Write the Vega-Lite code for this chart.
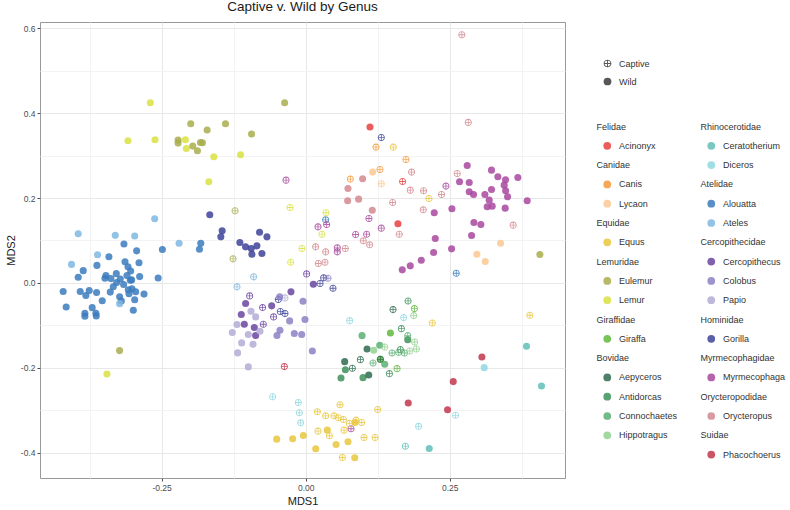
{
  "$schema": "https://vega.github.io/schema/vega-lite/v6.json",
  "width": 525,
  "height": 456,
  "autosize": {"type": "none"},
  "padding": {"left": 40, "top": 22, "right": 225, "bottom": 32},
  "background": "white",
  "title": {"text": "Captive v. Wild by Genus", "font": "Liberation Sans", "fontSize": 13.5, "fontWeight": "normal", "color": "#1a1a1a", "anchor": "middle", "baseline": "alphabetic", "offset": 1, "dy": 3.5},
  "data": {"values": [
    {"MDS1": -0.3153, "MDS2": 0.0918, "Genus": "Alouatta", "Type": "Wild"},
    {"MDS1": -0.2933, "MDS2": 0.0755, "Genus": "Alouatta", "Type": "Wild"},
    {"MDS1": -0.3414, "MDS2": 0.0615, "Genus": "Alouatta", "Type": "Wild"},
    {"MDS1": -0.3622, "MDS2": 0.0412, "Genus": "Alouatta", "Type": "Wild"},
    {"MDS1": -0.386, "MDS2": 0.0288, "Genus": "Alouatta", "Type": "Wild"},
    {"MDS1": -0.3947, "MDS2": 0.0132, "Genus": "Alouatta", "Type": "Wild"},
    {"MDS1": -0.2486, "MDS2": 0.0786, "Genus": "Alouatta", "Type": "Wild"},
    {"MDS1": -0.3135, "MDS2": 0.0498, "Genus": "Alouatta", "Type": "Wild"},
    {"MDS1": -0.3083, "MDS2": 0.0381, "Genus": "Alouatta", "Type": "Wild"},
    {"MDS1": -0.3037, "MDS2": 0.028, "Genus": "Alouatta", "Type": "Wild"},
    {"MDS1": -0.2892, "MDS2": 0.0475, "Genus": "Alouatta", "Type": "Wild"},
    {"MDS1": -0.3466, "MDS2": 0.0171, "Genus": "Alouatta", "Type": "Wild"},
    {"MDS1": -0.3483, "MDS2": 0.0109, "Genus": "Alouatta", "Type": "Wild"},
    {"MDS1": -0.3379, "MDS2": 0.0101, "Genus": "Alouatta", "Type": "Wild"},
    {"MDS1": -0.3286, "MDS2": 0.0218, "Genus": "Alouatta", "Type": "Wild"},
    {"MDS1": -0.3217, "MDS2": 0.0093, "Genus": "Alouatta", "Type": "Wild"},
    {"MDS1": -0.3338, "MDS2": -0.0093, "Genus": "Alouatta", "Type": "Wild"},
    {"MDS1": -0.328, "MDS2": 0.0008, "Genus": "Alouatta", "Type": "Wild"},
    {"MDS1": -0.3101, "MDS2": 0.0171, "Genus": "Alouatta", "Type": "Wild"},
    {"MDS1": -0.3043, "MDS2": 0.0062, "Genus": "Alouatta", "Type": "Wild"},
    {"MDS1": -0.2881, "MDS2": 0.0148, "Genus": "Alouatta", "Type": "Wild"},
    {"MDS1": -0.256, "MDS2": 0.0117, "Genus": "Alouatta", "Type": "Wild"},
    {"MDS1": -0.4208, "MDS2": -0.0202, "Genus": "Alouatta", "Type": "Wild"},
    {"MDS1": -0.3912, "MDS2": -0.0202, "Genus": "Alouatta", "Type": "Wild"},
    {"MDS1": -0.3756, "MDS2": -0.0179, "Genus": "Alouatta", "Type": "Wild"},
    {"MDS1": -0.3814, "MDS2": -0.0296, "Genus": "Alouatta", "Type": "Wild"},
    {"MDS1": -0.3628, "MDS2": -0.0226, "Genus": "Alouatta", "Type": "Wild"},
    {"MDS1": -0.3391, "MDS2": -0.0218, "Genus": "Alouatta", "Type": "Wild"},
    {"MDS1": -0.353, "MDS2": -0.042, "Genus": "Alouatta", "Type": "Wild"},
    {"MDS1": -0.4156, "MDS2": -0.0568, "Genus": "Alouatta", "Type": "Wild"},
    {"MDS1": -0.3704, "MDS2": -0.0584, "Genus": "Alouatta", "Type": "Wild"},
    {"MDS1": -0.3831, "MDS2": -0.0716, "Genus": "Alouatta", "Type": "Wild"},
    {"MDS1": -0.364, "MDS2": -0.0716, "Genus": "Alouatta", "Type": "Wild"},
    {"MDS1": -0.3831, "MDS2": -0.0786, "Genus": "Alouatta", "Type": "Wild"},
    {"MDS1": -0.3634, "MDS2": -0.0778, "Genus": "Alouatta", "Type": "Wild"},
    {"MDS1": -0.2991, "MDS2": -0.0646, "Genus": "Alouatta", "Type": "Wild"},
    {"MDS1": -0.2805, "MDS2": -0.0265, "Genus": "Alouatta", "Type": "Wild"},
    {"MDS1": -0.2967, "MDS2": -0.0397, "Genus": "Alouatta", "Type": "Wild"},
    {"MDS1": -0.3228, "MDS2": -0.0327, "Genus": "Alouatta", "Type": "Wild"},
    {"MDS1": -0.3199, "MDS2": -0.0428, "Genus": "Alouatta", "Type": "Wild"},
    {"MDS1": -0.3078, "MDS2": -0.0163, "Genus": "Alouatta", "Type": "Wild"},
    {"MDS1": -0.3014, "MDS2": -0.014, "Genus": "Alouatta", "Type": "Wild"},
    {"MDS1": -0.295, "MDS2": -0.021, "Genus": "Alouatta", "Type": "Wild"},
    {"MDS1": -0.3159, "MDS2": -0.0039, "Genus": "Alouatta", "Type": "Wild"},
    {"MDS1": -0.3066, "MDS2": -0.0257, "Genus": "Alouatta", "Type": "Wild"},
    {"MDS1": -0.302, "MDS2": 0.007, "Genus": "Alouatta", "Type": "Wild"},
    {"MDS1": -0.1843, "MDS2": 0.0794, "Genus": "Alouatta", "Type": "Wild"},
    {"MDS1": -0.182, "MDS2": 0.0936, "Genus": "Alouatta", "Type": "Wild"},
    {"MDS1": 0.0347, "MDS2": 0.1486, "Genus": "Alouatta", "Type": "Captive"},
    {"MDS1": 0.2613, "MDS2": 0.0228, "Genus": "Alouatta", "Type": "Captive"},
    {"MDS1": -0.262, "MDS2": 0.151, "Genus": "Ateles", "Type": "Wild"},
    {"MDS1": -0.3947, "MDS2": 0.116, "Genus": "Ateles", "Type": "Wild"},
    {"MDS1": -0.3304, "MDS2": 0.112, "Genus": "Ateles", "Type": "Wild"},
    {"MDS1": -0.2967, "MDS2": 0.1105, "Genus": "Ateles", "Type": "Wild"},
    {"MDS1": -0.3611, "MDS2": 0.0661, "Genus": "Ateles", "Type": "Wild"},
    {"MDS1": -0.4063, "MDS2": 0.0436, "Genus": "Ateles", "Type": "Wild"},
    {"MDS1": -0.3228, "MDS2": -0.049, "Genus": "Ateles", "Type": "Wild"},
    {"MDS1": -0.2197, "MDS2": 0.0936, "Genus": "Ateles", "Type": "Wild"},
    {"MDS1": -0.0903, "MDS2": 0.0142, "Genus": "Ateles", "Type": "Captive"},
    {"MDS1": -0.1192, "MDS2": -0.0094, "Genus": "Ateles", "Type": "Captive"},
    {"MDS1": -0.2696, "MDS2": 0.4247, "Genus": "Lemur", "Type": "Wild"},
    {"MDS1": -0.3084, "MDS2": 0.335, "Genus": "Lemur", "Type": "Wild"},
    {"MDS1": -0.2614, "MDS2": 0.3374, "Genus": "Lemur", "Type": "Wild"},
    {"MDS1": -0.2087, "MDS2": 0.3374, "Genus": "Lemur", "Type": "Wild"},
    {"MDS1": -0.207, "MDS2": 0.3169, "Genus": "Lemur", "Type": "Wild"},
    {"MDS1": -0.1594, "MDS2": 0.2973, "Genus": "Lemur", "Type": "Wild"},
    {"MDS1": -0.113, "MDS2": 0.302, "Genus": "Lemur", "Type": "Wild"},
    {"MDS1": -0.1681, "MDS2": 0.2383, "Genus": "Lemur", "Type": "Wild"},
    {"MDS1": -0.3449, "MDS2": -0.2147, "Genus": "Lemur", "Type": "Wild"},
    {"MDS1": -0.0272, "MDS2": 0.1777, "Genus": "Lemur", "Type": "Captive"},
    {"MDS1": 0.0353, "MDS2": 0.1652, "Genus": "Lemur", "Type": "Captive"},
    {"MDS1": 0.0283, "MDS2": 0.1148, "Genus": "Lemur", "Type": "Captive"},
    {"MDS1": -0.0064, "MDS2": 0.081, "Genus": "Lemur", "Type": "Captive"},
    {"MDS1": -0.026, "MDS2": 0.0488, "Genus": "Lemur", "Type": "Captive"},
    {"MDS1": -0.0365, "MDS2": 0.4247, "Genus": "Eulemur", "Type": "Wild"},
    {"MDS1": -0.1994, "MDS2": 0.3751, "Genus": "Eulemur", "Type": "Wild"},
    {"MDS1": -0.1391, "MDS2": 0.3751, "Genus": "Eulemur", "Type": "Wild"},
    {"MDS1": -0.171, "MDS2": 0.3602, "Genus": "Eulemur", "Type": "Wild"},
    {"MDS1": -0.0939, "MDS2": 0.3508, "Genus": "Eulemur", "Type": "Wild"},
    {"MDS1": -0.2214, "MDS2": 0.3366, "Genus": "Eulemur", "Type": "Wild"},
    {"MDS1": -0.2214, "MDS2": 0.3295, "Genus": "Eulemur", "Type": "Wild"},
    {"MDS1": -0.1959, "MDS2": 0.3224, "Genus": "Eulemur", "Type": "Wild"},
    {"MDS1": -0.1878, "MDS2": 0.3114, "Genus": "Eulemur", "Type": "Wild"},
    {"MDS1": -0.1826, "MDS2": 0.3311, "Genus": "Eulemur", "Type": "Wild"},
    {"MDS1": -0.1791, "MDS2": 0.3303, "Genus": "Eulemur", "Type": "Wild"},
    {"MDS1": -0.3229, "MDS2": -0.1597, "Genus": "Eulemur", "Type": "Wild"},
    {"MDS1": 0.4064, "MDS2": 0.0668, "Genus": "Eulemur", "Type": "Wild"},
    {"MDS1": -0.1225, "MDS2": 0.1699, "Genus": "Eulemur", "Type": "Captive"},
    {"MDS1": -0.126, "MDS2": 0.0566, "Genus": "Eulemur", "Type": "Captive"},
    {"MDS1": -0.1664, "MDS2": 0.1604, "Genus": "Gorilla", "Type": "Wild"},
    {"MDS1": -0.1449, "MDS2": 0.1227, "Genus": "Gorilla", "Type": "Wild"},
    {"MDS1": -0.1472, "MDS2": 0.1085, "Genus": "Gorilla", "Type": "Wild"},
    {"MDS1": -0.1142, "MDS2": 0.0952, "Genus": "Gorilla", "Type": "Wild"},
    {"MDS1": -0.1043, "MDS2": 0.0849, "Genus": "Gorilla", "Type": "Wild"},
    {"MDS1": -0.0945, "MDS2": 0.081, "Genus": "Gorilla", "Type": "Wild"},
    {"MDS1": -0.0846, "MDS2": 0.0873, "Genus": "Gorilla", "Type": "Wild"},
    {"MDS1": -0.0933, "MDS2": 0.0676, "Genus": "Gorilla", "Type": "Wild"},
    {"MDS1": -0.08, "MDS2": 0.1195, "Genus": "Gorilla", "Type": "Wild"},
    {"MDS1": -0.0672, "MDS2": 0.1085, "Genus": "Gorilla", "Type": "Wild"},
    {"MDS1": -0.0759, "MDS2": 0.0692, "Genus": "Gorilla", "Type": "Wild"},
    {"MDS1": 0.1312, "MDS2": 0.3429, "Genus": "Gorilla", "Type": "Captive"},
    {"MDS1": -0.0475, "MDS2": -0.0393, "Genus": "Gorilla", "Type": "Captive"},
    {"MDS1": -0.044, "MDS2": -0.0676, "Genus": "Gorilla", "Type": "Captive"},
    {"MDS1": -0.0359, "MDS2": -0.0723, "Genus": "Gorilla", "Type": "Captive"},
    {"MDS1": 0.0312, "MDS2": 0.0118, "Genus": "Gorilla", "Type": "Captive"},
    {"MDS1": 0.0249, "MDS2": -0.0016, "Genus": "Gorilla", "Type": "Captive"},
    {"MDS1": 0.0474, "MDS2": -0.0126, "Genus": "Gorilla", "Type": "Captive"},
    {"MDS1": -0.1042, "MDS2": -0.0487, "Genus": "Cercopithecus", "Type": "Wild"},
    {"MDS1": -0.0255, "MDS2": -0.0212, "Genus": "Cercopithecus", "Type": "Wild"},
    {"MDS1": -0.059, "MDS2": -0.0542, "Genus": "Cercopithecus", "Type": "Wild"},
    {"MDS1": -0.1117, "MDS2": -0.0747, "Genus": "Cercopithecus", "Type": "Wild"},
    {"MDS1": -0.1065, "MDS2": -0.0975, "Genus": "Cercopithecus", "Type": "Wild"},
    {"MDS1": -0.0891, "MDS2": -0.1053, "Genus": "Cercopithecus", "Type": "Wild"},
    {"MDS1": -0.0868, "MDS2": -0.1242, "Genus": "Cercopithecus", "Type": "Wild"},
    {"MDS1": 0.0133, "MDS2": -0.0031, "Genus": "Cercopithecus", "Type": "Wild"},
    {"MDS1": -0.0972, "MDS2": -0.0307, "Genus": "Cercopithecus", "Type": "Captive"},
    {"MDS1": -0.0747, "MDS2": -0.0582, "Genus": "Cercopithecus", "Type": "Captive"},
    {"MDS1": -0.0556, "MDS2": -0.0802, "Genus": "Cercopithecus", "Type": "Captive"},
    {"MDS1": -0.0735, "MDS2": -0.0975, "Genus": "Cercopithecus", "Type": "Captive"},
    {"MDS1": 0.0017, "MDS2": 0.0212, "Genus": "Cercopithecus", "Type": "Captive"},
    {"MDS1": -0.0949, "MDS2": -0.0668, "Genus": "Papio", "Type": "Wild"},
    {"MDS1": -0.0868, "MDS2": -0.0802, "Genus": "Papio", "Type": "Wild"},
    {"MDS1": -0.1192, "MDS2": -0.0983, "Genus": "Papio", "Type": "Wild"},
    {"MDS1": -0.1273, "MDS2": -0.1171, "Genus": "Papio", "Type": "Wild"},
    {"MDS1": -0.0995, "MDS2": -0.1219, "Genus": "Papio", "Type": "Wild"},
    {"MDS1": -0.0793, "MDS2": -0.114, "Genus": "Papio", "Type": "Wild"},
    {"MDS1": -0.1111, "MDS2": -0.1415, "Genus": "Papio", "Type": "Wild"},
    {"MDS1": -0.0914, "MDS2": -0.1447, "Genus": "Papio", "Type": "Wild"},
    {"MDS1": -0.1181, "MDS2": -0.1651, "Genus": "Papio", "Type": "Wild"},
    {"MDS1": -0.0995, "MDS2": -0.1981, "Genus": "Papio", "Type": "Wild"},
    {"MDS1": -0.0359, "MDS2": -0.0354, "Genus": "Papio", "Type": "Captive"},
    {"MDS1": -0.0451, "MDS2": -0.033, "Genus": "Colobus", "Type": "Wild"},
    {"MDS1": -0.0498, "MDS2": -0.1242, "Genus": "Colobus", "Type": "Wild"},
    {"MDS1": -0.0446, "MDS2": -0.1116, "Genus": "Colobus", "Type": "Wild"},
    {"MDS1": -0.0278, "MDS2": -0.0896, "Genus": "Colobus", "Type": "Wild"},
    {"MDS1": -0.0197, "MDS2": -0.1195, "Genus": "Colobus", "Type": "Wild"},
    {"MDS1": -0.0069, "MDS2": -0.1219, "Genus": "Colobus", "Type": "Wild"},
    {"MDS1": -0.0012, "MDS2": -0.0865, "Genus": "Colobus", "Type": "Wild"},
    {"MDS1": -0.0046, "MDS2": -0.0432, "Genus": "Colobus", "Type": "Wild"},
    {"MDS1": 0.0116, "MDS2": -0.1604, "Genus": "Colobus", "Type": "Wild"},
    {"MDS1": 0.0387, "MDS2": 0.011, "Genus": "Colobus", "Type": "Captive"},
    {"MDS1": -0.0341, "MDS2": 0.2422, "Genus": "Myrmecophaga", "Type": "Captive"},
    {"MDS1": 0.0214, "MDS2": 0.1321, "Genus": "Myrmecophaga", "Type": "Captive"},
    {"MDS1": 0.0364, "MDS2": 0.1376, "Genus": "Myrmecophaga", "Type": "Captive"},
    {"MDS1": 0.0549, "MDS2": 0.0826, "Genus": "Myrmecophaga", "Type": "Captive"},
    {"MDS1": 0.0549, "MDS2": 0.0731, "Genus": "Myrmecophaga", "Type": "Captive"},
    {"MDS1": 0.0867, "MDS2": 0.114, "Genus": "Myrmecophaga", "Type": "Captive"},
    {"MDS1": 0.1058, "MDS2": 0.1148, "Genus": "Myrmecophaga", "Type": "Captive"},
    {"MDS1": 0.1098, "MDS2": 0.1518, "Genus": "Myrmecophaga", "Type": "Captive"},
    {"MDS1": 0.1312, "MDS2": 0.129, "Genus": "Myrmecophaga", "Type": "Captive"},
    {"MDS1": 0.2434, "MDS2": 0.2281, "Genus": "Myrmecophaga", "Type": "Captive"},
    {"MDS1": 0.0787, "MDS2": -0.344, "Genus": "Myrmecophaga", "Type": "Captive"},
    {"MDS1": 0.2803, "MDS2": 0.2768, "Genus": "Myrmecophaga", "Type": "Wild"},
    {"MDS1": 0.267, "MDS2": 0.2383, "Genus": "Myrmecophaga", "Type": "Wild"},
    {"MDS1": 0.2838, "MDS2": 0.2367, "Genus": "Myrmecophaga", "Type": "Wild"},
    {"MDS1": 0.2838, "MDS2": 0.2147, "Genus": "Myrmecophaga", "Type": "Wild"},
    {"MDS1": 0.2913, "MDS2": 0.2084, "Genus": "Myrmecophaga", "Type": "Wild"},
    {"MDS1": 0.3225, "MDS2": 0.2658, "Genus": "Myrmecophaga", "Type": "Wild"},
    {"MDS1": 0.3335, "MDS2": 0.2501, "Genus": "Myrmecophaga", "Type": "Wild"},
    {"MDS1": 0.3468, "MDS2": 0.243, "Genus": "Myrmecophaga", "Type": "Wild"},
    {"MDS1": 0.3445, "MDS2": 0.2304, "Genus": "Myrmecophaga", "Type": "Wild"},
    {"MDS1": 0.3682, "MDS2": 0.2485, "Genus": "Myrmecophaga", "Type": "Wild"},
    {"MDS1": 0.3225, "MDS2": 0.2202, "Genus": "Myrmecophaga", "Type": "Wild"},
    {"MDS1": 0.347, "MDS2": 0.2171, "Genus": "Myrmecophaga", "Type": "Wild"},
    {"MDS1": 0.3503, "MDS2": 0.2029, "Genus": "Myrmecophaga", "Type": "Wild"},
    {"MDS1": 0.311, "MDS2": 0.2084, "Genus": "Myrmecophaga", "Type": "Wild"},
    {"MDS1": 0.3185, "MDS2": 0.195, "Genus": "Myrmecophaga", "Type": "Wild"},
    {"MDS1": 0.315, "MDS2": 0.1793, "Genus": "Myrmecophaga", "Type": "Wild"},
    {"MDS1": 0.3237, "MDS2": 0.1809, "Genus": "Myrmecophaga", "Type": "Wild"},
    {"MDS1": 0.3462, "MDS2": 0.1762, "Genus": "Myrmecophaga", "Type": "Wild"},
    {"MDS1": 0.3844, "MDS2": 0.1935, "Genus": "Myrmecophaga", "Type": "Wild"},
    {"MDS1": 0.2538, "MDS2": 0.1746, "Genus": "Myrmecophaga", "Type": "Wild"},
    {"MDS1": 0.2231, "MDS2": 0.1652, "Genus": "Myrmecophaga", "Type": "Wild"},
    {"MDS1": 0.2919, "MDS2": 0.1424, "Genus": "Myrmecophaga", "Type": "Wild"},
    {"MDS1": 0.304, "MDS2": 0.1376, "Genus": "Myrmecophaga", "Type": "Wild"},
    {"MDS1": 0.2879, "MDS2": 0.1117, "Genus": "Myrmecophaga", "Type": "Wild"},
    {"MDS1": 0.2249, "MDS2": 0.1046, "Genus": "Myrmecophaga", "Type": "Wild"},
    {"MDS1": 0.2532, "MDS2": 0.0802, "Genus": "Myrmecophaga", "Type": "Wild"},
    {"MDS1": 0.222, "MDS2": 0.0716, "Genus": "Myrmecophaga", "Type": "Wild"},
    {"MDS1": 0.2006, "MDS2": 0.0535, "Genus": "Myrmecophaga", "Type": "Wild"},
    {"MDS1": 0.1815, "MDS2": 0.0401, "Genus": "Myrmecophaga", "Type": "Wild"},
    {"MDS1": 0.1676, "MDS2": 0.0307, "Genus": "Myrmecophaga", "Type": "Wild"},
    {"MDS1": 0.0173, "MDS2": 0.0849, "Genus": "Orycteropus", "Type": "Captive"},
    {"MDS1": 0.0347, "MDS2": 0.0731, "Genus": "Orycteropus", "Type": "Captive"},
    {"MDS1": 0.0688, "MDS2": 0.081, "Genus": "Orycteropus", "Type": "Captive"},
    {"MDS1": 0.022, "MDS2": 0.0456, "Genus": "Orycteropus", "Type": "Captive"},
    {"MDS1": 0.0335, "MDS2": 0.0488, "Genus": "Orycteropus", "Type": "Captive"},
    {"MDS1": 0.1, "MDS2": 0.0991, "Genus": "Orycteropus", "Type": "Captive"},
    {"MDS1": 0.111, "MDS2": 0.0897, "Genus": "Orycteropus", "Type": "Captive"},
    {"MDS1": 0.1509, "MDS2": 0.1895, "Genus": "Orycteropus", "Type": "Captive"},
    {"MDS1": 0.1624, "MDS2": 0.1148, "Genus": "Orycteropus", "Type": "Captive"},
    {"MDS1": 0.1838, "MDS2": 0.2611, "Genus": "Orycteropus", "Type": "Captive"},
    {"MDS1": 0.1815, "MDS2": 0.2186, "Genus": "Orycteropus", "Type": "Captive"},
    {"MDS1": 0.2046, "MDS2": 0.2171, "Genus": "Orycteropus", "Type": "Captive"},
    {"MDS1": 0.204, "MDS2": 0.1722, "Genus": "Orycteropus", "Type": "Captive"},
    {"MDS1": 0.2358, "MDS2": 0.2084, "Genus": "Orycteropus", "Type": "Captive"},
    {"MDS1": 0.2821, "MDS2": 0.3783, "Genus": "Orycteropus", "Type": "Captive"},
    {"MDS1": 0.263, "MDS2": 0.258, "Genus": "Orycteropus", "Type": "Captive"},
    {"MDS1": 0.3601, "MDS2": 0.1361, "Genus": "Orycteropus", "Type": "Captive"},
    {"MDS1": 0.271, "MDS2": 0.585, "Genus": "Orycteropus", "Type": "Captive"},
    {"MDS1": 0.0734, "MDS2": 0.2226, "Genus": "Orycteropus", "Type": "Wild"},
    {"MDS1": 0.0988, "MDS2": 0.2454, "Genus": "Orycteropus", "Type": "Wild"},
    {"MDS1": 0.0728, "MDS2": 0.1935, "Genus": "Orycteropus", "Type": "Wild"},
    {"MDS1": 0.0919, "MDS2": 0.1974, "Genus": "Orycteropus", "Type": "Wild"},
    {"MDS1": 0.1156, "MDS2": 0.1714, "Genus": "Orycteropus", "Type": "Wild"},
    {"MDS1": 0.0775, "MDS2": 0.2446, "Genus": "Canis", "Type": "Captive"},
    {"MDS1": 0.122, "MDS2": 0.3201, "Genus": "Canis", "Type": "Captive"},
    {"MDS1": 0.1289, "MDS2": 0.2674, "Genus": "Canis", "Type": "Captive"},
    {"MDS1": 0.174, "MDS2": 0.291, "Genus": "Canis", "Type": "Captive"},
    {"MDS1": 0.1162, "MDS2": 0.2611, "Genus": "Lycaon", "Type": "Wild"},
    {"MDS1": 0.3382, "MDS2": 0.0936, "Genus": "Lycaon", "Type": "Wild"},
    {"MDS1": 0.2971, "MDS2": 0.0676, "Genus": "Lycaon", "Type": "Wild"},
    {"MDS1": 0.3116, "MDS2": 0.0503, "Genus": "Lycaon", "Type": "Wild"},
    {"MDS1": 0.1312, "MDS2": 0.2336, "Genus": "Lycaon", "Type": "Captive"},
    {"MDS1": 0.1116, "MDS2": 0.3673, "Genus": "Acinonyx", "Type": "Wild"},
    {"MDS1": 0.1601, "MDS2": 0.1392, "Genus": "Acinonyx", "Type": "Wild"},
    {"MDS1": 0.1682, "MDS2": 0.2391, "Genus": "Acinonyx", "Type": "Captive"},
    {"MDS1": 0.152, "MDS2": 0.3201, "Genus": "Equus", "Type": "Captive"},
    {"MDS1": 0.2139, "MDS2": 0.199, "Genus": "Equus", "Type": "Captive"},
    {"MDS1": 0.2197, "MDS2": -0.0944, "Genus": "Equus", "Type": "Captive"},
    {"MDS1": 0.389, "MDS2": -0.0763, "Genus": "Equus", "Type": "Captive"},
    {"MDS1": 0.0596, "MDS2": -0.2874, "Genus": "Equus", "Type": "Captive"},
    {"MDS1": 0.0203, "MDS2": -0.3039, "Genus": "Equus", "Type": "Captive"},
    {"MDS1": 0.0347, "MDS2": -0.3134, "Genus": "Equus", "Type": "Captive"},
    {"MDS1": 0.0492, "MDS2": -0.3134, "Genus": "Equus", "Type": "Captive"},
    {"MDS1": 0.0567, "MDS2": -0.3181, "Genus": "Equus", "Type": "Captive"},
    {"MDS1": 0.0654, "MDS2": -0.322, "Genus": "Equus", "Type": "Captive"},
    {"MDS1": 0.0758, "MDS2": -0.3314, "Genus": "Equus", "Type": "Captive"},
    {"MDS1": 0.0874, "MDS2": -0.3236, "Genus": "Equus", "Type": "Captive"},
    {"MDS1": 0.0972, "MDS2": -0.3291, "Genus": "Equus", "Type": "Captive"},
    {"MDS1": 0.125, "MDS2": -0.2984, "Genus": "Equus", "Type": "Captive"},
    {"MDS1": 0.0666, "MDS2": -0.3472, "Genus": "Equus", "Type": "Captive"},
    {"MDS1": 0.0214, "MDS2": -0.3495, "Genus": "Equus", "Type": "Captive"},
    {"MDS1": 0.0411, "MDS2": -0.3605, "Genus": "Equus", "Type": "Captive"},
    {"MDS1": 0.1013, "MDS2": -0.3645, "Genus": "Equus", "Type": "Captive"},
    {"MDS1": 0.1204, "MDS2": -0.3645, "Genus": "Equus", "Type": "Captive"},
    {"MDS1": 0.0637, "MDS2": -0.4116, "Genus": "Equus", "Type": "Captive"},
    {"MDS1": 0.0856, "MDS2": -0.3291, "Genus": "Equus", "Type": "Wild"},
    {"MDS1": 0.0376, "MDS2": -0.3472, "Genus": "Equus", "Type": "Wild"},
    {"MDS1": -0.0503, "MDS2": -0.3684, "Genus": "Equus", "Type": "Wild"},
    {"MDS1": -0.0226, "MDS2": -0.3676, "Genus": "Equus", "Type": "Wild"},
    {"MDS1": -0.0041, "MDS2": -0.3597, "Genus": "Equus", "Type": "Wild"},
    {"MDS1": 0.0174, "MDS2": -0.3912, "Genus": "Equus", "Type": "Wild"},
    {"MDS1": 0.0527, "MDS2": -0.381, "Genus": "Equus", "Type": "Wild"},
    {"MDS1": 0.0735, "MDS2": -0.3747, "Genus": "Equus", "Type": "Wild"},
    {"MDS1": 0.0851, "MDS2": -0.4124, "Genus": "Equus", "Type": "Wild"},
    {"MDS1": -0.0573, "MDS2": -0.2686, "Genus": "Diceros", "Type": "Captive"},
    {"MDS1": -0.0127, "MDS2": -0.2819, "Genus": "Diceros", "Type": "Captive"},
    {"MDS1": -0.011, "MDS2": -0.3063, "Genus": "Diceros", "Type": "Captive"},
    {"MDS1": -0.0087, "MDS2": -0.3299, "Genus": "Diceros", "Type": "Captive"},
    {"MDS1": 0.1701, "MDS2": -0.0819, "Genus": "Diceros", "Type": "Captive"},
    {"MDS1": 0.0764, "MDS2": -0.089, "Genus": "Diceros", "Type": "Captive"},
    {"MDS1": 0.2601, "MDS2": -0.3122, "Genus": "Diceros", "Type": "Captive"},
    {"MDS1": 0.196, "MDS2": -0.3382, "Genus": "Diceros", "Type": "Captive"},
    {"MDS1": 0.3098, "MDS2": -0.1998, "Genus": "Diceros", "Type": "Wild"},
    {"MDS1": 0.173, "MDS2": -0.385, "Genus": "Ceratotherium", "Type": "Captive"},
    {"MDS1": 0.2144, "MDS2": -0.3906, "Genus": "Ceratotherium", "Type": "Wild"},
    {"MDS1": 0.3832, "MDS2": -0.1494, "Genus": "Ceratotherium", "Type": "Wild"},
    {"MDS1": 0.4092, "MDS2": -0.243, "Genus": "Ceratotherium", "Type": "Wild"},
    {"MDS1": 0.3058, "MDS2": -0.1746, "Genus": "Phacochoerus", "Type": "Wild"},
    {"MDS1": 0.2561, "MDS2": -0.2328, "Genus": "Phacochoerus", "Type": "Wild"},
    {"MDS1": 0.178, "MDS2": -0.2831, "Genus": "Phacochoerus", "Type": "Wild"},
    {"MDS1": 0.2462, "MDS2": -0.2989, "Genus": "Phacochoerus", "Type": "Wild"},
    {"MDS1": -0.037, "MDS2": -0.1974, "Genus": "Phacochoerus", "Type": "Captive"},
    {"MDS1": 0.0978, "MDS2": -0.1244, "Genus": "Connochaetes", "Type": "Wild"},
    {"MDS1": 0.147, "MDS2": -0.1181, "Genus": "Giraffa", "Type": "Wild"},
    {"MDS1": 0.1771, "MDS2": -0.1338, "Genus": "Antidorcas", "Type": "Wild"},
    {"MDS1": 0.1065, "MDS2": -0.1558, "Genus": "Aepyceros", "Type": "Wild"},
    {"MDS1": 0.1181, "MDS2": -0.159, "Genus": "Hippotragus", "Type": "Wild"},
    {"MDS1": 0.1285, "MDS2": -0.1472, "Genus": "Connochaetes", "Type": "Wild"},
    {"MDS1": 0.1296, "MDS2": -0.1802, "Genus": "Giraffa", "Type": "Wild"},
    {"MDS1": 0.1372, "MDS2": -0.192, "Genus": "Connochaetes", "Type": "Wild"},
    {"MDS1": 0.0677, "MDS2": -0.1857, "Genus": "Aepyceros", "Type": "Wild"},
    {"MDS1": 0.0689, "MDS2": -0.2046, "Genus": "Antidorcas", "Type": "Wild"},
    {"MDS1": 0.0613, "MDS2": -0.2242, "Genus": "Antidorcas", "Type": "Wild"},
    {"MDS1": 0.0995, "MDS2": -0.2234, "Genus": "Antidorcas", "Type": "Wild"},
    {"MDS1": 0.1094, "MDS2": -0.2171, "Genus": "Aepyceros", "Type": "Wild"},
    {"MDS1": 0.1777, "MDS2": -0.0426, "Genus": "Antidorcas", "Type": "Captive"},
    {"MDS1": 0.1516, "MDS2": -0.063, "Genus": "Aepyceros", "Type": "Captive"},
    {"MDS1": 0.1887, "MDS2": -0.0607, "Genus": "Giraffa", "Type": "Captive"},
    {"MDS1": 0.1875, "MDS2": -0.0772, "Genus": "Hippotragus", "Type": "Captive"},
    {"MDS1": 0.1661, "MDS2": -0.1079, "Genus": "Antidorcas", "Type": "Captive"},
    {"MDS1": 0.1771, "MDS2": -0.1244, "Genus": "Connochaetes", "Type": "Captive"},
    {"MDS1": 0.1892, "MDS2": -0.1393, "Genus": "Hippotragus", "Type": "Captive"},
    {"MDS1": 0.1372, "MDS2": -0.1511, "Genus": "Hippotragus", "Type": "Captive"},
    {"MDS1": 0.1499, "MDS2": -0.1653, "Genus": "Connochaetes", "Type": "Captive"},
    {"MDS1": 0.1644, "MDS2": -0.1574, "Genus": "Antidorcas", "Type": "Captive"},
    {"MDS1": 0.1713, "MDS2": -0.1653, "Genus": "Connochaetes", "Type": "Captive"},
    {"MDS1": 0.1806, "MDS2": -0.1605, "Genus": "Hippotragus", "Type": "Captive"},
    {"MDS1": 0.1921, "MDS2": -0.1558, "Genus": "Hippotragus", "Type": "Captive"},
    {"MDS1": 0.1296, "MDS2": -0.1802, "Genus": "Aepyceros", "Type": "Captive"},
    {"MDS1": 0.0949, "MDS2": -0.181, "Genus": "Aepyceros", "Type": "Captive"},
    {"MDS1": 0.1169, "MDS2": -0.1888, "Genus": "Connochaetes", "Type": "Captive"},
    {"MDS1": 0.081, "MDS2": -0.2014, "Genus": "Aepyceros", "Type": "Captive"},
    {"MDS1": 0.1453, "MDS2": -0.214, "Genus": "Antidorcas", "Type": "Captive"},
    {"MDS1": 0.1586, "MDS2": -0.2022, "Genus": "Giraffa", "Type": "Captive"},
    {"MDS1": 0.1615, "MDS2": -0.1637, "Genus": "Connochaetes", "Type": "Captive"}
  ]},
  "mark": {"type": "point", "filled": true, "opacity": 0.85, "size": 50},
  "encoding": {
    "x": {
      "field": "MDS1", "type": "quantitative",
      "scale": {"domain": [-0.461, 0.45], "nice": false, "zero": false},
      "axis": {
        "title": "MDS1",
        "values": [-0.375, -0.25, -0.125, 0, 0.125, 0.25, 0.375],
        "labelExpr": "abs(datum.value*4-round(datum.value*4))<0.001 ? (datum.value<0 ? '-' : '') + format(abs(datum.value), '.2f') : ''",
        "gridColor": {"condition": {"test": "abs(datum.value*4-round(datum.value*4))<0.001", "value": "#e8e8e8"}, "value": "#f3f3f3"},
        "tickColor": {"condition": {"test": "abs(datum.value*4-round(datum.value*4))<0.001", "value": "#4d4d4d"}, "value": "transparent"}
      }
    },
    "y": {
      "field": "MDS2", "type": "quantitative",
      "scale": {"domain": [-0.46, 0.615], "nice": false, "zero": false},
      "axis": {
        "title": "MDS2",
        "values": [-0.4, -0.3, -0.2, -0.1, 0, 0.1, 0.2, 0.3, 0.4, 0.5, 0.6],
        "labelExpr": "abs(datum.value*5-round(datum.value*5))<0.001 ? (datum.value<-0.001 ? '-' : '') + format(abs(datum.value), '.1f') : ''",
        "gridColor": {"condition": {"test": "abs(datum.value*5-round(datum.value*5))<0.001", "value": "#e8e8e8"}, "value": "#f3f3f3"},
        "tickColor": {"condition": {"test": "abs(datum.value*5-round(datum.value*5))<0.001", "value": "#4d4d4d"}, "value": "transparent"}
      }
    },
    "color": {
      "field": "Genus", "type": "nominal",
      "scale": {
        "domain": ["Felidae", "Acinonyx", "Canidae", "Canis", "Lycaon", "Equidae", "Equus", "Lemuridae", "Eulemur", "Lemur", "Giraffidae", "Giraffa", "Bovidae", "Aepyceros", "Antidorcas", "Connochaetes", "Hippotragus", " ", "Rhinocerotidae", "Ceratotherium", "Diceros", "Atelidae", "Alouatta", "Ateles", "Cercopithecidae", "Cercopithecus", "Colobus", "Papio", "Hominidae", "Gorilla", "Myrmecophagidae", "Myrmecophaga", "Orycteropodidae", "Orycteropus", "Suidae", "Phacochoerus"],
        "range": ["transparent", "#e8413f", "transparent", "#f39a3b", "#fbc893", "transparent", "#e9c73d", "transparent", "#a8ad4e", "#d9e241", "transparent", "#62ba3d", "transparent", "#2e6b4f", "#3d915a", "#5bb074", "#93d18f", "transparent", "transparent", "#62c0b7", "#8fd8e0", "transparent", "#3b7bbd", "#7fb7e0", "transparent", "#6a45a0", "#8c80c4", "#b2abd6", "transparent", "#3e4399", "transparent", "#a8489f", "transparent", "#d38a8f", "transparent", "#c2364c"]
      },
      "legend": {
        "title": null,
        "orient": "none",
        "legendX": 562.75,
        "legendY": 100,
        "columns": 2,
        "columnPadding": 22,
        "rowPadding": 9.3,
        "symbolLimit": 60,
        "symbolType": "circle",
        "symbolSize": 60,
        "symbolStrokeWidth": 0,
        "labelFont": "Liberation Sans",
        "labelFontSize": 9,
        "labelColor": "#333333",
        "labelOffset": -15.25,
        "labelLimit": 200,
        "labelExpr": "indexof(['Felidae','Canidae','Equidae','Lemuridae','Giraffidae','Bovidae','Rhinocerotidae','Atelidae','Cercopithecidae','Hominidae','Myrmecophagidae','Orycteropodidae','Suidae',' '], datum.label) >= 0 ? datum.label : '\u200c\u2003\u200c\u2003\u200c\u2002' + datum.label",
        "encode": {
          "labels": {
            "font": {"condition": {"test": "indexof(['Felidae','Canidae','Equidae','Lemuridae','Giraffidae','Bovidae','Rhinocerotidae','Atelidae','Cercopithecidae','Hominidae','Myrmecophagidae','Orycteropodidae','Suidae'], datum.label) >= 0", "value": "Open Sans"}, "value": "Liberation Sans"},
            "fontSize": {"condition": {"test": "indexof(['Felidae','Canidae','Equidae','Lemuridae','Giraffidae','Bovidae','Rhinocerotidae','Atelidae','Cercopithecidae','Hominidae','Myrmecophagidae','Orycteropodidae','Suidae'], datum.label) >= 0", "value": 9.5}, "value": 9},
            "fill": {"condition": {"test": "indexof(['Felidae','Canidae','Equidae','Lemuridae','Giraffidae','Bovidae','Rhinocerotidae','Atelidae','Cercopithecidae','Hominidae','Myrmecophagidae','Orycteropodidae','Suidae'], datum.label) >= 0", "value": "#5a5a5a"}, "value": "#333333"}
          }
        }
      }
    },
    "shape": {
      "field": "Type", "type": "nominal",
      "scale": {
        "domain": ["Captive", "Wild"],
        "range": ["M-1,0A1,1,0,1,1,1,0A1,1,0,1,1,-1,0ZM-0.76,0A0.76,0.76,0,1,0,0.76,0A0.76,0.76,0,1,0,-0.76,0ZM-0.8,-0.12L0.8,-0.12L0.8,0.12L-0.8,0.12ZM-0.12,-0.8L0.12,-0.8L0.12,0.8L-0.12,0.8Z", "circle"]
      },
      "legend": {
        "title": null,
        "orient": "none",
        "legendX": 563,
        "legendY": 37,
        "symbolSize": 60,
        "symbolFillColor": "#3a3a3a",
        "symbolStrokeWidth": 0,
        "rowPadding": 8,
        "labelFont": "Liberation Sans",
        "labelFontSize": 9,
        "labelColor": "#333333",
        "labelOffset": 7,
        "encode": {"symbols": {"fill": {"value": "#3a3a3a"}, "opacity": {"value": 1}}}
      }
    }
  },
  "config": {
    "font": "Liberation Sans",
    "view": {"stroke": "#999999", "strokeWidth": 1},
    "axis": {
      "domain": false,
      "tickSize": 3,
      "gridWidth": 1,
      "labelFont": "Liberation Sans",
      "labelFontSize": 8.5,
      "labelColor": "#4d4d4d",
      "labelPadding": 2,
      "labelOverlap": false,
      "labelFlush": false,
      "titleFont": "Liberation Sans",
      "titleFontSize": 11,
      "titleFontWeight": "normal",
      "titleColor": "#1a1a1a",
      "titlePadding": 4
    }
  }
}
